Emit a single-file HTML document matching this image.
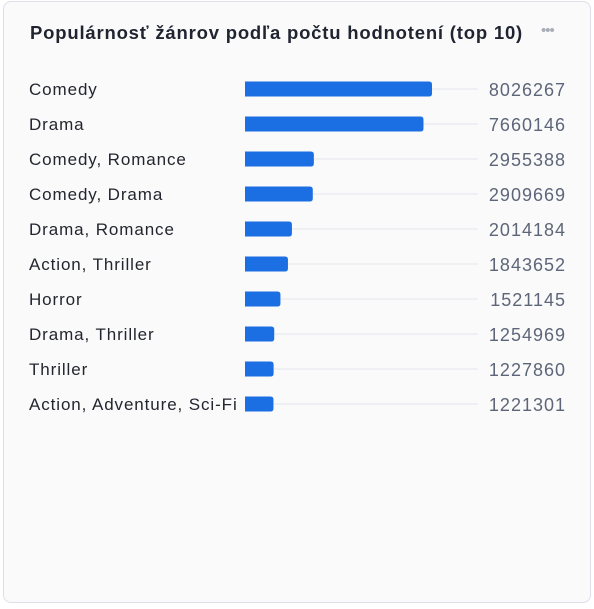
<!DOCTYPE html>
<html><head><meta charset="utf-8"><style>
body{margin:0;width:594px;height:609px;background:#fff;font-family:"Liberation Sans",sans-serif;}
.card{position:absolute;left:3px;top:1px;width:586px;height:600px;border:1px solid #dcdfe8;border-radius:8px;background:#fafafb;}
.title{position:absolute;left:26px;top:20px;font-size:18.5px;font-weight:bold;color:#1f2430;letter-spacing:0.8px;white-space:nowrap;}
.more{position:absolute;left:537px;top:20px;font-size:15px;color:#a8adb8;letter-spacing:-1px;}
</style></head><body>
<div class="card">
<div class="title">Populárnosť žánrov podľa počtu hodnotení (top 10)</div>
<div class="more">•••</div>
</div>
<svg id="chart" width="594" height="609" style="position:absolute;left:0;top:0"></svg>
<script>
const categories=["Comedy","Drama","Comedy, Romance","Comedy, Drama","Drama, Romance","Action, Thriller","Horror","Drama, Thriller","Thriller","Action, Adventure, Sci-Fi"];
const values=[8026267,7660146,2955388,2909669,2014184,1843652,1521145,1254969,1227860,1221301];
const xMax=10000000;
const x0=245,x1=478,y0=89,rowH=35,barH=15;
function xs(v){return x0+(x1-x0)*v/xMax;}
function ys(i){return y0+i*rowH;}
const svg=document.getElementById('chart');
const NS="http://www.w3.org/2000/svg";
categories.forEach((c,i)=>{
  const y=ys(i);
  const t=document.createElementNS(NS,'line');
  t.setAttribute('x1',x0);t.setAttribute('x2',x1);t.setAttribute('y1',y);t.setAttribute('y2',y);
  t.setAttribute('stroke','#e4e6eb');t.setAttribute('stroke-width','1');
  
  
  svg.appendChild(t);
  const w=xs(values[i])-x0;
  const p=document.createElementNS(NS,'path');
  const r=3,top=y-barH/2;
  p.setAttribute('d',`M${x0},${top}H${x0+w-r}Q${x0+w},${top} ${x0+w},${top+r}V${top+barH-r}Q${x0+w},${top+barH} ${x0+w-r},${top+barH}H${x0}Z`);
  p.setAttribute('fill','#1c6fe3');
  
  
  svg.appendChild(p);
  const l=document.createElementNS(NS,'text');
  l.setAttribute('x',29);l.setAttribute('y',y+6);l.setAttribute('font-size','17');l.setAttribute('fill','#23262e');
  l.setAttribute('letter-spacing','0.9');
  l.setAttribute('font-family','Liberation Sans, sans-serif');
  l.textContent=c;
  
  
  svg.appendChild(l);
  const v=document.createElementNS(NS,'text');
  v.setAttribute('x',566);v.setAttribute('y',y+7);v.setAttribute('text-anchor','end');v.setAttribute('font-size','18');v.setAttribute('fill','#5d6678');
  v.setAttribute('letter-spacing','1');
  v.setAttribute('font-family','Liberation Sans, sans-serif');
  v.textContent=values[i];
  
  
  svg.appendChild(v);
});
</script>
</body></html>
